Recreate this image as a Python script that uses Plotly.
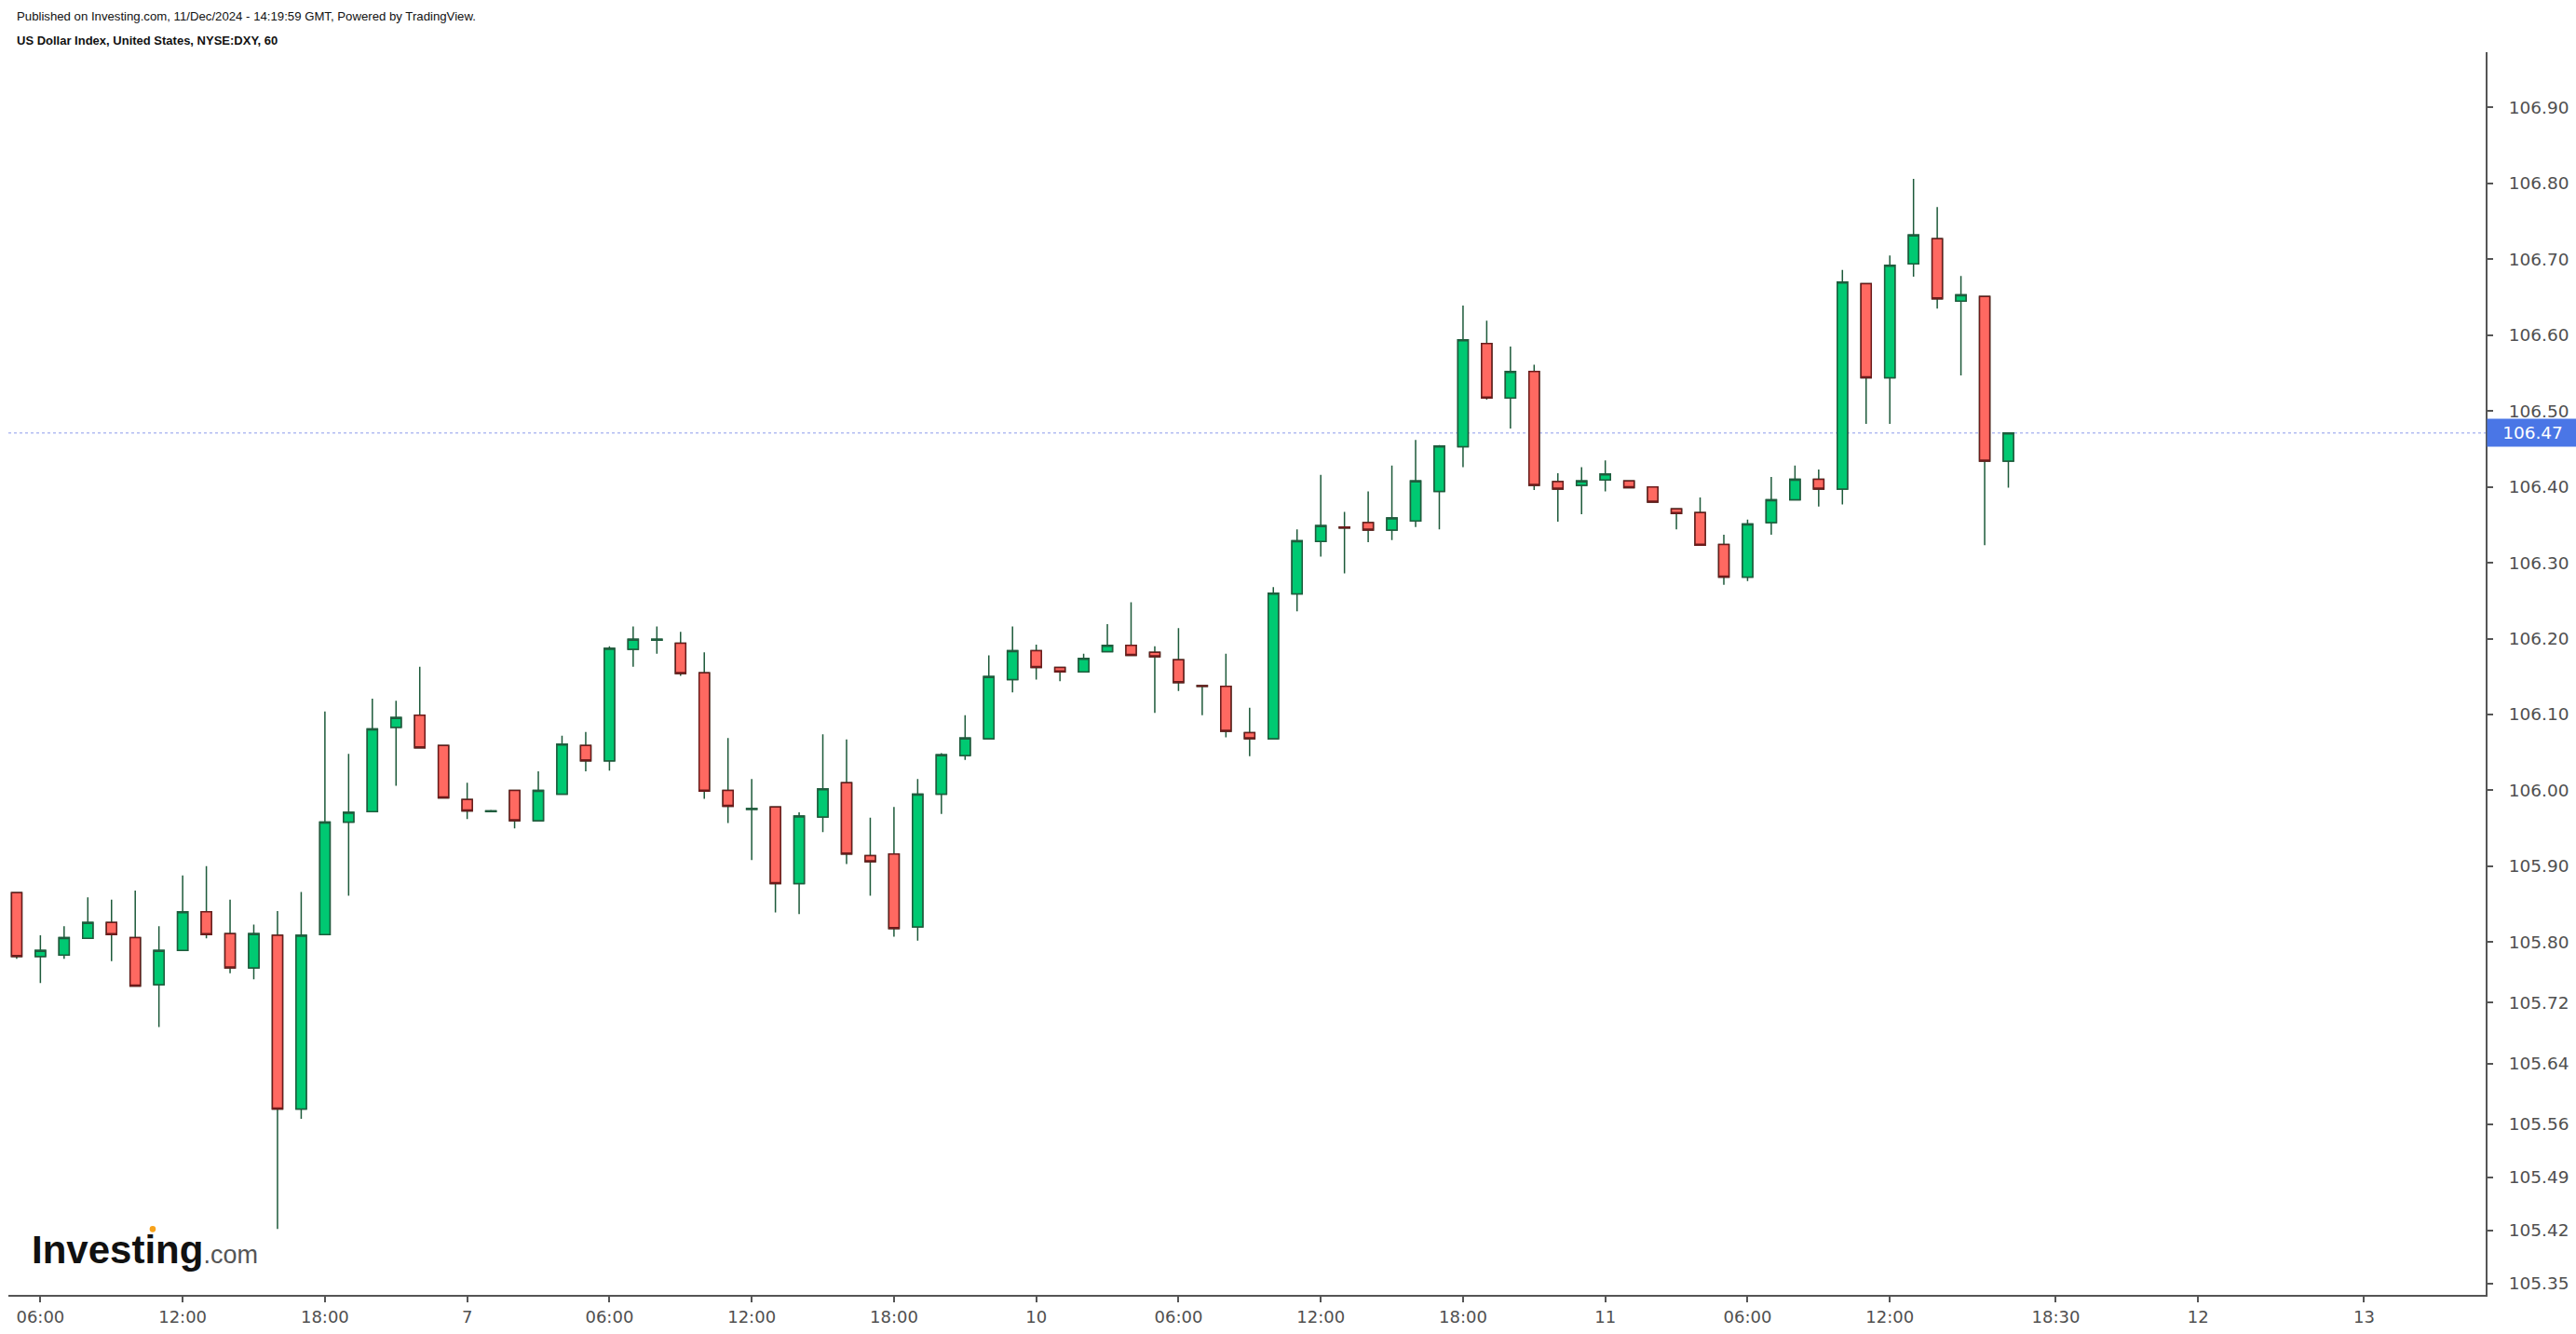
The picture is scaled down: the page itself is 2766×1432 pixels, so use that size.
import plotly.graph_objects as go

# ---------------- data (hourly bars) ----------------
bar_index = list(range(85))

opens = [105.865, 105.781, 105.783, 105.805, 105.826, 105.806, 105.744, 105.789, 105.840, 105.811,
         105.766, 105.809, 105.580, 105.810, 105.958, 105.972, 106.083, 106.099, 106.059, 105.988,
         105.972, 106.000, 105.960, 105.995, 106.059, 106.039, 106.186, 106.198, 106.194, 106.155,
         106.000, 105.975, 105.978, 105.877, 105.965, 106.010, 105.914, 105.916, 105.820, 105.995,
         106.046, 106.068, 106.146, 106.184, 106.162, 106.156, 106.183, 106.191, 106.182, 106.172,
         106.138, 106.137, 106.076, 106.068, 106.259, 106.328, 106.347, 106.353, 106.343, 106.355,
         106.394, 106.453, 106.589, 106.517, 106.552, 106.407, 106.402, 106.409, 106.408, 106.400,
         106.371, 106.366, 106.324, 106.281, 106.353, 106.383, 106.410, 106.397, 106.668, 106.544,
         106.694, 106.727, 106.645, 106.651, 106.434]

highs = [105.866, 105.809, 105.821, 105.859, 105.856, 105.868, 105.821, 105.888, 105.900, 105.856,
         105.823, 105.841, 105.866, 106.104, 106.048, 106.121, 106.118, 106.163, 106.059, 106.010,
         105.974, 106.000, 106.025, 106.072, 106.077, 106.190, 106.216, 106.216, 106.209, 106.182,
         106.069, 106.015, 105.978, 105.971, 106.074, 106.067, 105.964, 105.978, 106.015, 106.049,
         106.099, 106.178, 106.216, 106.192, 106.162, 106.180, 106.219, 106.248, 106.190, 106.214,
         106.139, 106.180, 106.109, 106.268, 106.344, 106.416, 106.367, 106.394, 106.428, 106.462,
         106.455, 106.639, 106.619, 106.585, 106.561, 106.418, 106.426, 106.435, 106.408, 106.400,
         106.371, 106.386, 106.337, 106.357, 106.413, 106.428, 106.423, 106.686, 106.668, 106.705,
         106.806, 106.769, 106.678, 106.651, 106.471]

lows = [105.778, 105.746, 105.778, 105.805, 105.775, 105.742, 105.688, 105.789, 105.805, 105.759,
        105.751, 105.422, 105.567, 105.810, 105.861, 105.972, 106.006, 106.056, 105.990, 105.962,
        105.972, 105.950, 105.960, 105.995, 106.025, 106.026, 106.163, 106.180, 106.151, 105.989,
        105.957, 105.908, 105.839, 105.837, 105.945, 105.903, 105.861, 105.807, 105.802, 105.969,
        106.040, 106.068, 106.129, 106.146, 106.144, 106.156, 106.183, 106.178, 106.102, 106.131,
        106.099, 106.070, 106.045, 106.068, 106.236, 106.308, 106.286, 106.327, 106.330, 106.347,
        106.344, 106.426, 106.515, 106.477, 106.396, 106.354, 106.364, 106.394, 106.399, 106.380,
        106.344, 106.323, 106.271, 106.276, 106.337, 106.383, 106.374, 106.377, 106.483, 106.483,
        106.677, 106.635, 106.547, 106.323, 106.399]

closes = [105.781, 105.789, 105.806, 105.826, 105.810, 105.742, 105.789, 105.840, 105.810, 105.766,
          105.811, 105.580, 105.809, 105.958, 105.971, 106.081, 106.096, 106.056, 105.990, 105.973,
          105.973, 105.960, 106.000, 106.061, 106.039, 106.187, 106.199, 106.199, 106.154, 105.999,
          105.979, 105.976, 105.877, 105.966, 106.002, 105.916, 105.906, 105.818, 105.995, 106.047,
          106.069, 106.150, 106.184, 106.162, 106.156, 106.174, 106.191, 106.178, 106.176, 106.142,
          106.137, 106.078, 106.068, 106.260, 106.329, 106.349, 106.346, 106.343, 106.359, 106.408,
          106.454, 106.594, 106.517, 106.552, 106.402, 106.397, 106.408, 106.417, 106.399, 106.380,
          106.365, 106.323, 106.281, 106.351, 106.383, 106.410, 106.397, 106.670, 106.544, 106.692,
          106.732, 106.648, 106.653, 106.434, 106.471]

# x tick labels and the bar slot each one sits at
x_tick_slots = [1, 7, 13, 19, 25, 31, 37, 43, 49, 55, 61, 67, 73, 79, 86, 92, 99]
x_tick_labels = ["06:00", "12:00", "18:00", "7", "06:00", "12:00", "18:00", "10",
                 "06:00", "12:00", "18:00", "11", "06:00", "12:00", "18:30", "12", "13"]

y_tick_values = [105.35, 105.42, 105.49, 105.56, 105.64, 105.72, 105.80, 105.90, 106.00,
                 106.10, 106.20, 106.30, 106.40, 106.50, 106.60, 106.70, 106.80, 106.90]

header_line1 = "Published on Investing.com, 11/Dec/2024 - 14:19:59 GMT, Powered by TradingView."
header_line2 = "US Dollar Index, United States, NYSE:DXY, 60"

# ---------------- styles ----------------
WICK = "#1D5A3A"
UP_FILL = "#00C972"
UP_LINE = "#1F5C3D"
DN_FILL = "#FF6961"
DN_LINE = "#6B1B1B"
AXIS = "#555555"
LABEL = "#505050"
PRICE_BLUE = "#4A76E6"

last_price = closes[-1]

body_high = [max(o, c) for o, c in zip(opens, closes)]
body_low = [min(o, c) for o, c in zip(opens, closes)]

fig = go.Figure()

# wicks (full high-low range), all dark green
fig.add_trace(go.Candlestick(
    x=bar_index, open=opens, high=highs, low=lows, close=closes,
    increasing=dict(line=dict(color=WICK, width=1.5), fillcolor=WICK),
    decreasing=dict(line=dict(color=WICK, width=1.5), fillcolor=WICK),
    whiskerwidth=0, hoverinfo="skip", showlegend=False,
))
# bodies
fig.add_trace(go.Candlestick(
    x=bar_index, open=opens, high=body_high, low=body_low, close=closes,
    increasing=dict(line=dict(color=UP_LINE, width=1.5), fillcolor=UP_FILL),
    decreasing=dict(line=dict(color=DN_LINE, width=1.5), fillcolor=DN_FILL),
    whiskerwidth=0, hoverinfo="skip", showlegend=False,
))

# last-price dotted line
fig.add_shape(type="line", xref="paper", x0=0, x1=1, yref="y", y0=last_price, y1=last_price,
              line=dict(color="#8C9CEB", width=1, dash="dot"), layer="below")

annotations = [
    dict(text=f"{last_price:.2f}", xref="paper", x=1, yref="y", y=last_price,
         xanchor="left", yanchor="middle", showarrow=False, align="center",
         bgcolor=PRICE_BLUE, width=95, height=27, xshift=1,
         font=dict(family="DejaVu Sans", size=18.5, color="white")),
    dict(text=header_line1, xref="paper", x=0.0026, yref="paper", y=1.029,
         xanchor="left", yanchor="middle", showarrow=False,
         font=dict(family="Liberation Sans", size=13.2, color="#111111")),
    dict(text=f"<b>{header_line2}</b>", xref="paper", x=0.0026, yref="paper", y=1.0095,
         xanchor="left", yanchor="middle", showarrow=False,
         font=dict(family="Liberation Sans", size=13, color="#111111")),
    dict(text="<b>Investing</b><span style='font-size:27px;color:#555555'>.com</span>",
         xref="paper", x=0.0085, yref="paper", y=0.0367,
         xanchor="left", yanchor="middle", showarrow=False,
         font=dict(family="Liberation Sans", size=42, color="#111111")),
]

fig.update_layout(
    width=2766, height=1432,
    margin=dict(l=9, r=97, t=56, b=42, pad=0),
    paper_bgcolor="white", plot_bgcolor="white",
    boxgap=0.38, boxmode="overlay",
    showlegend=False,
    annotations=annotations,
    xaxis=dict(
        range=[-0.35, 104.13], rangeslider=dict(visible=False),
        tickmode="array", tickvals=x_tick_slots, ticktext=x_tick_labels,
        showgrid=False, zeroline=False,
        showline=True, linecolor=AXIS, linewidth=2,
        ticks="outside", ticklen=6, tickwidth=1.5, tickcolor=AXIS,
        tickfont=dict(family="DejaVu Sans", size=18, color=LABEL),
        fixedrange=True,
    ),
    yaxis=dict(
        range=[105.335, 106.973], side="right",
        tickmode="array", tickvals=y_tick_values,
        ticktext=[f"{v:.2f}" for v in y_tick_values],
        showgrid=False, zeroline=False,
        showline=True, linecolor=AXIS, linewidth=2,
        ticks="outside", ticklen=6, tickwidth=1.5, tickcolor=AXIS,
        ticklabelstandoff=13,
        tickfont=dict(family="DejaVu Sans", size=18.5, color=LABEL),
        fixedrange=True,
    ),
)

# small orange accent of the logo (just above the letters)
fig.add_shape(type="circle", xref="paper", yref="paper",
              x0=0.0570, x1=0.0595, y0=0.0505, y1=0.0555,
              fillcolor="#F7A21B", line=dict(width=0))

fig.write_html("out.html", config={"displayModeBar": False},
               post_script="document.body.style.margin='0';document.body.style.overflow='hidden';")
